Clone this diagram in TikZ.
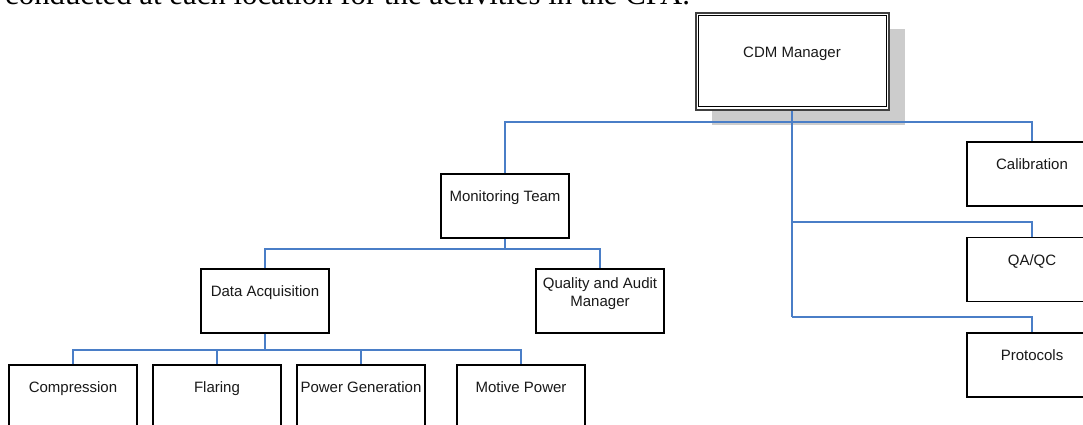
\documentclass[tikz,border=0pt]{standalone}
\usepackage{fontspec}
\setmainfont{Liberation Sans}
\newfontfamily\serifft{Liberation Serif}
\usetikzlibrary{calc}
\definecolor{connblue}{RGB}{74,126,199}
\definecolor{shadowgray}{RGB}{204,204,204}
\begin{document}
\begin{tikzpicture}[x=1pt,y=-1pt,
  box/.style={draw=black, fill=white, line width=1.3pt, minimum width=128pt, minimum height=64pt, inner sep=0pt},
  lbl/.style={anchor=base, inner sep=0pt, font=\fontsize{15}{18}\selectfont, text=black!90},
  conn/.style={draw=connblue, line width=1.3pt}]
\useasboundingbox (0,0) rectangle (1083,425);
\clip (0,0) rectangle (1083,425);

% intro text (cut at the top)
\node[anchor=base west, inner sep=0pt, font=\serifft\fontsize{30.8}{36}\selectfont] (intro) at (5,4.5) {conducted at each location for the activities in the CPA.};

% CDM manager with shadow and double frame
\fill[shadowgray] (712,29) rectangle (905,125);
\node[draw=black!75, fill=white, line width=2pt, minimum width=193pt, minimum height=97pt, inner sep=0pt] (cdm) at (792,61.5) {};
\draw[line width=1pt] ([xshift=4pt,yshift=-4pt]cdm.north west) rectangle ([xshift=-3.5pt,yshift=4pt]cdm.south east);
\node[lbl] (cdm-t) at (792,57.5) {CDM Manager};

% boxes
\node[box] (mt) at (505,206) {};
\node[lbl] (mt-t) at (505,201.5) {Monitoring Team};
\node[box] (da) at (265,301) {};
\node[lbl] (da-t) at (265,296.5) {Data Acquisition};
\node[box] (qam) at (600,301) {};
\node[lbl, anchor=center, align=center] (qam-t) at (600,293.5) {Quality and Audit\\Manager};

\node[box] (comp) at (73,397) {};
\node[lbl] (comp-t) at (73,392.5) {Compression};
\node[box] (flar) at (217,397) {};
\node[lbl] (flar-t) at (217,392.5) {Flaring};
\node[box] (pg) at (361,397) {};
\node[lbl] (pg-t) at (361,392.5) {Power Generation};
\node[box] (mp) at (521,397) {};
\node[lbl] (mp-t) at (521,392.5) {Motive Power};

\node[box, minimum width=130pt] (cal) at (1032,174) {};
\node[lbl] (cal-t) at (1032,169.5) {Calibration};
\node[box, minimum width=130pt] (qa) at (1032,269.5) {};
\node[lbl] (qa-t) at (1032,265) {QA/QC};
\node[box, minimum width=130pt] (prot) at (1032,365) {};
\node[lbl] (prot-t) at (1032,360.5) {Protocols};

% junctions
\coordinate (j1) at (792,122);
\coordinate (j2) at (792,222);
\coordinate (j3) at (792,317);
\coordinate (j4) at (505,249);
\coordinate (j5) at (265,350);

% connectors
\draw[conn] (cdm.south) -- (j3);
\draw[conn] (mt.north) |- (j1) -| (cal.north);
\draw[conn] (j2) -| (qa.north);
\draw[conn] (j3) -| (prot.north);
\draw[conn] (mt.south) -- (j4);
\draw[conn] (da.north) |- (j4) -| (qam.north);
\draw[conn] (da.south) -- (j5);
\draw[conn] (comp.north) |- (j5) -| (mp.north);
\draw[conn] (j5 -| flar.north) -- (flar.north);
\draw[conn] (j5 -| pg.north) -- (pg.north);
\end{tikzpicture}
\end{document}
